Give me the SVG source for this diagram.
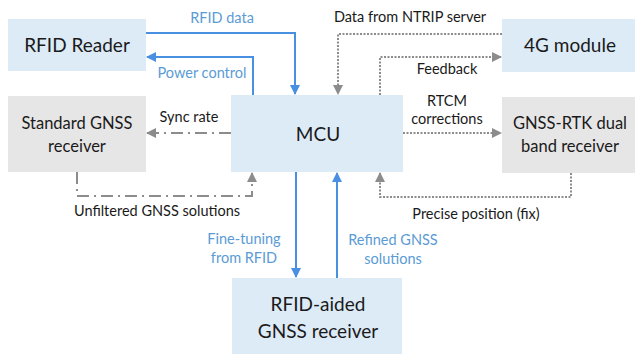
<svg xmlns="http://www.w3.org/2000/svg" width="635" height="354" viewBox="0 0 635 354">
<defs>
<style>
.bn{fill:#DDEBF7}
.gn{fill:#E7E6E6}
.nt{font-family:Lato,"Liberation Sans",sans-serif;font-size:19px;fill:#1a1a1a;text-anchor:middle}
.ng{font-size:16.5px}
.lb{font-family:Lato,"Liberation Sans",sans-serif;font-size:14.5px;fill:#1a1a1a;text-anchor:middle}
.lbb{font-family:Lato,"Liberation Sans",sans-serif;font-size:14.5px;fill:#5B9BD5;text-anchor:middle}
.cb{fill:none;stroke:#4A90E2;stroke-width:2}
.cd{fill:none;stroke:#8C8C8C;stroke-width:2;stroke-dasharray:2 1.5}
.cdd{fill:none;stroke:#8C8C8C;stroke-width:2;stroke-dasharray:12 5 2 5}
</style>
<marker id="ab" viewBox="0 0 10 10" refX="9" refY="5" markerWidth="5" markerHeight="5" orient="auto" markerUnits="strokeWidth"><path d="M0,0 L10,5 L0,10 z" fill="#4A90E2"/></marker>
<marker id="ag" viewBox="0 0 10 10" refX="9" refY="5" markerWidth="5" markerHeight="5" orient="auto" markerUnits="strokeWidth"><path d="M0,0 L10,5 L0,10 z" fill="#8C8C8C"/></marker>
</defs>
<rect width="635" height="354" fill="#fff"/>
<g id="rfid-reader"><rect class="bn" x="8" y="19" width="138" height="52"/><text class="nt" x="77" y="52">RFID Reader</text></g>
<g id="standard-gnss"><rect class="gn" x="8" y="96" width="138" height="76"/><text class="nt ng" x="77" y="129">Standard GNSS</text><text class="nt ng" x="77" y="152">receiver</text></g>
<g id="mcu"><rect class="bn" x="231" y="95" width="172" height="77"/><text class="nt" x="318" y="141" font-size="21.5">MCU</text></g>
<g id="4g-module"><rect class="bn" x="502" y="19" width="133" height="53"/><text class="nt" x="570" y="52" font-size="19.5">4G module</text></g>
<g id="gnss-rtk"><rect class="gn" x="502" y="97" width="133" height="76"/><text class="nt ng" x="570" y="129">GNSS-RTK dual</text><text class="nt ng" x="570" y="152">band receiver</text></g>
<g id="rfid-aided"><rect class="bn" x="232" y="278" width="170" height="76"/><text class="nt" x="318" y="311">RFID-aided</text><text class="nt" x="318" y="338">GNSS receiver</text></g>
<g id="connectors">
<path class="cb" d="M146,33 H295 V94" marker-end="url(#ab)"/>
<path class="cb" d="M253,95 V57 H147" marker-end="url(#ab)"/>
<path class="cd" d="M502,34 H338 V94" marker-end="url(#ag)"/>
<path class="cd" d="M380,95 V57 H501" marker-end="url(#ag)"/>
<path class="cd" d="M403,133 H501" marker-end="url(#ag)"/>
<path class="cd" d="M571,173 V197 H380 V173" marker-end="url(#ag)"/>
<path class="cdd" d="M231,133 H147" marker-end="url(#ag)"/>
<path class="cdd" d="M77,172 V196 H252 V173" marker-end="url(#ag)"/>
<path class="cb" d="M296,172 V277" marker-end="url(#ab)"/>
<path class="cb" d="M337,278 V173" marker-end="url(#ab)"/>
</g>
<g id="labels">
<text class="lbb" x="222" y="23">RFID data</text>
<text class="lbb" x="202" y="78">Power control</text>
<text class="lb" x="410" y="22">Data from NTRIP server</text>
<text class="lb" x="447" y="74">Feedback</text>
<text class="lb" x="447" y="106">RTCM</text>
<text class="lb" x="447" y="124">corrections</text>
<text class="lb" x="189" y="122">Sync rate</text>
<text class="lb" x="157" y="216">Unfiltered GNSS solutions</text>
<text class="lb" x="476" y="219">Precise position (fix)</text>
<text class="lbb" x="244" y="244">Fine-tuning</text>
<text class="lbb" x="244" y="263">from RFID</text>
<text class="lbb" x="393" y="245">Refined GNSS</text>
<text class="lbb" x="393" y="264">solutions</text>
</g>
</svg>
